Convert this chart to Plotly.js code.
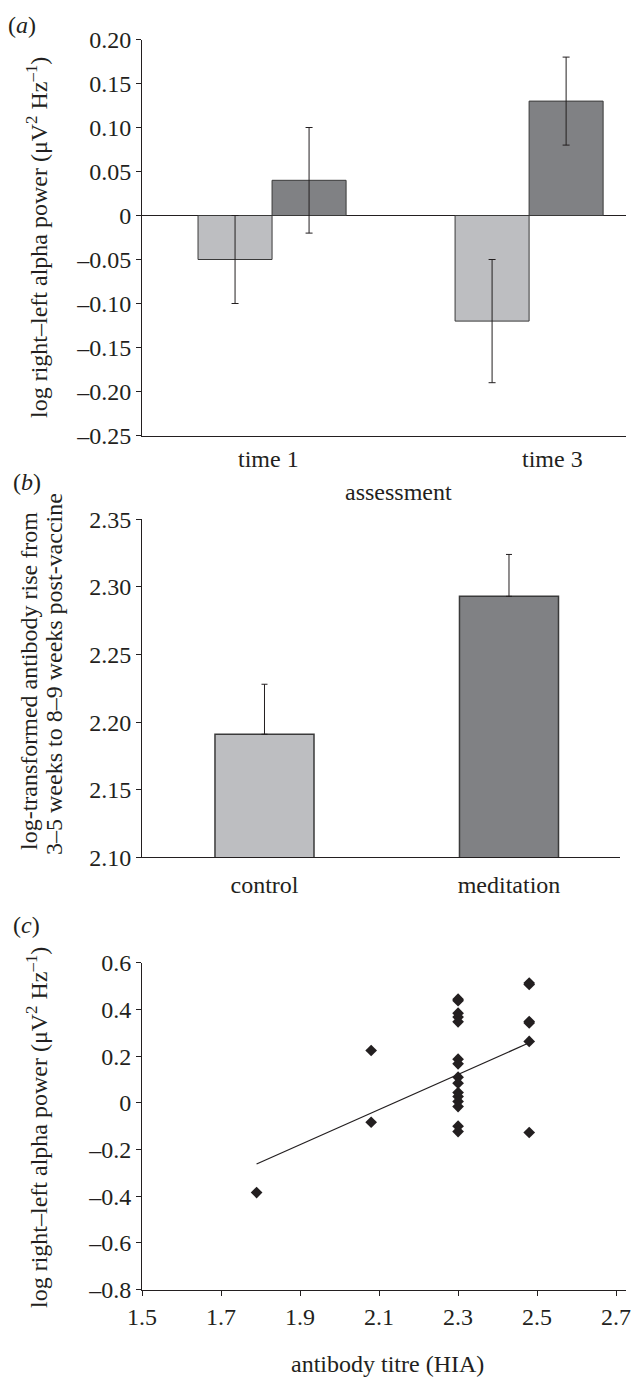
<!DOCTYPE html>
<html>
<head>
<meta charset="utf-8">
<script src="https://cdn.plot.ly/plotly-3.0.1.min.js"></script>
<style>
  html, body { margin: 0; padding: 0; background: #ffffff; }
  #fig { width: 641px; height: 1377px; }
</style>
</head>
<body>
<div id="fig"></div>
<script>
// ---- (a) hemispheric alpha asymmetry by assessment ----
const timeLabels = ['time 1', 'time 3'];
const controlAsym = [-0.05, -0.12];
const controlAsymErr = [0.05, 0.07];
const meditAsym = [0.04, 0.13];
const meditAsymErr = [0.06, 0.05];
const asymTickVals = [0.20, 0.15, 0.10, 0.05, 0, -0.05, -0.10, -0.15, -0.20, -0.25];
const asymTickText = ['0.20', '0.15', '0.10', '0.05', '0', '\u20130.05', '\u20130.10', '\u20130.15', '\u20130.20', '\u20130.25'];

// ---- (b) antibody rise by group ----
const groupLabels = ['control', 'meditation'];
const antibodyRise = [2.191, 2.293];
const antibodyRiseErr = [0.037, 0.031];

// ---- (c) antibody titre vs alpha asymmetry ----
const titre = [1.79, 2.08, 2.08,
  2.30, 2.30, 2.30, 2.30, 2.30, 2.30, 2.30, 2.30, 2.30, 2.30, 2.30, 2.30, 2.30, 2.30, 2.30,
  2.48, 2.48, 2.48, 2.48, 2.48, 2.48];
const alphaAsym = [-0.384, 0.224, -0.083,
  0.444, 0.437, 0.384, 0.367, 0.347, 0.187, 0.167, 0.110, 0.084, 0.044, 0.027, 0.006, -0.016, -0.100, -0.123,
  0.513, 0.507, 0.348, 0.342, 0.263, -0.127];
const fitTitre = [1.79, 2.48];
const fitAsym = [-0.262, 0.257];
const scTickVals = [0.6, 0.4, 0.2, 0, -0.2, -0.4, -0.6, -0.8];
const scTickText = ['0.6', '0.4', '0.2', '0', '\u20130.2', '\u20130.4', '\u20130.6', '\u20130.8'];

// ---- page geometry (pixels) ----
const W = 641, H = 1377;
const px = v => v / W;
const py = v => 1 - v / H;

const INK = '#231f20';
const LIGHT = '#bdbec1';
const DARK = '#808184';
const EDGE = '#3a3a3a';
const FONT = "'Liberation Serif', 'Times New Roman', serif";

const errStyle = { color: INK, thickness: 1, width: 3.5 };

const traces = [
  {
    type: 'bar', x: timeLabels, y: controlAsym, xaxis: 'x', yaxis: 'y',
    offset: -0.288, width: 0.288,
    marker: { color: LIGHT, line: { color: EDGE, width: 1 } },
    error_y: Object.assign({ type: 'data', array: controlAsymErr }, errStyle),
    hoverinfo: 'skip'
  },
  {
    type: 'bar', x: timeLabels, y: meditAsym, xaxis: 'x', yaxis: 'y',
    offset: 0, width: 0.288,
    marker: { color: DARK, line: { color: EDGE, width: 1 } },
    error_y: Object.assign({ type: 'data', array: meditAsymErr }, errStyle),
    hoverinfo: 'skip'
  },
  {
    type: 'bar', x: groupLabels, y: antibodyRise, xaxis: 'x2', yaxis: 'y2',
    width: 0.405,
    marker: { color: [LIGHT, DARK], line: { color: EDGE, width: 1.5 } },
    error_y: Object.assign({ type: 'data', symmetric: false, array: antibodyRiseErr,
      arrayminus: antibodyRiseErr.map(() => 0) }, errStyle, { width: 3 }),
    hoverinfo: 'skip'
  },
  {
    type: 'scatter', mode: 'lines', x: fitTitre, y: fitAsym, xaxis: 'x3', yaxis: 'y3',
    line: { color: INK, width: 1.2 }, hoverinfo: 'skip'
  },
  {
    type: 'scatter', mode: 'markers', x: titre, y: alphaAsym, xaxis: 'x3', yaxis: 'y3',
    marker: { symbol: 'diamond', size: 9, color: INK }, hoverinfo: 'skip'
  }
];

const tickFont = { family: FONT, size: 24, color: INK };

const baseY = {
  showgrid: false, showline: true, linecolor: INK, linewidth: 1,
  ticks: 'outside', ticklen: 5, tickcolor: INK, tickwidth: 1,
  tickfont: tickFont, zeroline: false, fixedrange: true
};
const baseX = {
  showgrid: false, showline: true, linecolor: INK, linewidth: 1,
  zeroline: false, fixedrange: true, tickfont: tickFont
};

const layout = {
  width: W, height: H,
  margin: { l: 0, r: 0, t: 0, b: 0 },
  paper_bgcolor: '#ffffff', plot_bgcolor: '#ffffff',
  showlegend: false, barmode: 'overlay',
  font: { family: FONT, size: 24, color: INK },

  xaxis: Object.assign({}, baseX, {
    domain: [px(142), px(626)], anchor: 'y',
    type: 'category', range: [-0.506, 1.377],
    ticks: '', showticklabels: false
  }),
  yaxis: Object.assign({}, baseY, {
    domain: [py(435.5), py(39.5)], anchor: 'x',
    range: [-0.25, 0.20], tickvals: asymTickVals, ticktext: asymTickText,
    zeroline: true, zerolinecolor: INK, zerolinewidth: 1
  }),

  xaxis2: Object.assign({}, baseX, {
    domain: [px(142), px(619.5)], anchor: 'y2',
    type: 'category', range: [-0.501, 1.452], ticks: '',
    ticklabelstandoff: 6
  }),
  yaxis2: Object.assign({}, baseY, {
    domain: [py(857.3), py(519.3)], anchor: 'x2',
    range: [2.10, 2.35], dtick: 0.05, tick0: 2.10, tickformat: '.2f'
  }),

  xaxis3: Object.assign({}, baseX, {
    domain: [px(142), px(626)], anchor: 'y3',
    range: [1.5, 2.725], tick0: 1.5, dtick: 0.2, tickformat: '.1f',
    ticks: 'outside', ticklen: 5, tickcolor: INK, tickwidth: 1
  }),
  yaxis3: Object.assign({}, baseY, {
    domain: [py(1289.7), py(962.7)], anchor: 'x3',
    range: [-0.8, 0.6], tickvals: scTickVals, ticktext: scTickText
  }),

  annotations: []
};

function note(text, x, y, opts) {
  layout.annotations.push(Object.assign({
    text: text, x: px(x), y: py(y), xref: 'paper', yref: 'paper',
    xanchor: 'center', yanchor: 'middle', showarrow: false,
    font: { family: FONT, size: 24, color: INK }
  }, opts || {}));
}

// panel letters
note('(<i>a</i>)', 22, 25);
note('(<i>b</i>)', 27, 482);
note('(<i>c</i>)', 26, 925);

// category labels of (a)
note(timeLabels[0], 268, 459);
note(timeLabels[1], 552, 459);
note('assessment', 398, 492);

// axis titles
const alphaTitle = 'log right\u2013left alpha power (\u03bcV<sup>2</sup> Hz<sup>\u20131</sup>)';
note(alphaTitle, 37, 238, { textangle: -90 });
note('log-transformed antibody rise from', 29, 681, { textangle: -90 });
note('3\u20135 weeks to 8\u20139 weeks post-vaccine', 54, 674, { textangle: -90 });
note(alphaTitle, 37, 1128, { textangle: -90 });
note('antibody titre (HIA)', 387, 1364);

Plotly.newPlot('fig', traces, layout, { staticPlot: true, displayModeBar: false });
</script>
</body>
</html>
